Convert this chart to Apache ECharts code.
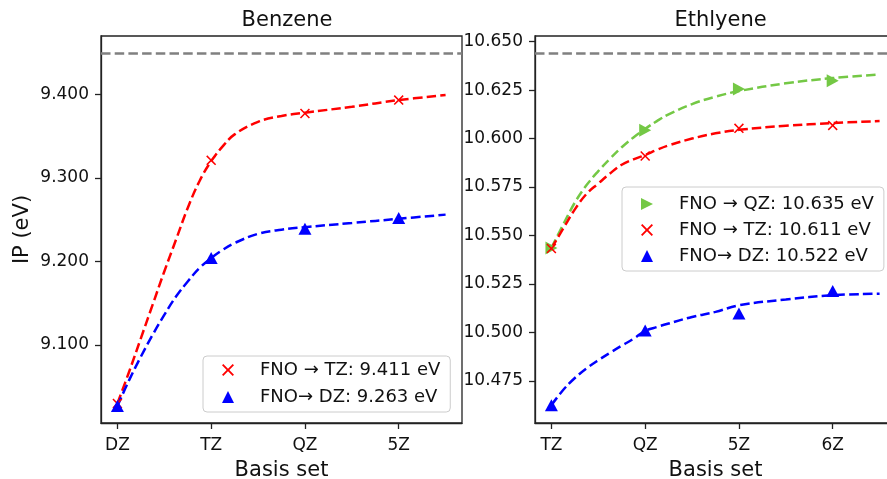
<!DOCTYPE html>
<html>
<head>
<meta charset="utf-8">
<script src="https://cdn.jsdelivr.net/npm/echarts@6/dist/echarts.min.js"></script>
<style>
  html, body { margin: 0; padding: 0; background: #fff; }
  #chart { width: 887px; height: 479px; }
</style>
</head>
<body>
<div id="chart"></div>
<script>
// ---------------- data ----------------
const benzCats = ['DZ', 'TZ', 'QZ', '5Z'];
const ethCats = ['TZ', 'QZ', '5Z', '6Z'];
const catIndex = [0, 1, 2, 3];

const benzTZ = [9.030, 9.321, 9.377, 9.393];
const benzDZ = [9.027, 9.204, 9.239, 9.252];
const benzRef = 9.449;

const ethQZ = [10.5436, 10.6043, 10.6256, 10.6298];
const ethTZ = [10.5433, 10.5910, 10.6053, 10.6068];
const ethDZ = [10.4625, 10.5010, 10.5098, 10.5214];
const ethRef = 10.644;

// fitted curves at these basis positions
const curveX = [0, 0.125, 0.25, 0.375, 0.5, 0.625, 0.75, 0.875, 1, 1.125, 1.25, 1.5, 1.75, 2, 2.5, 3, 3.5];
const benzTZFit = [9.030, 9.068, 9.108, 9.148, 9.188, 9.226, 9.264, 9.296, 9.320, 9.338, 9.352, 9.367, 9.374, 9.378, 9.385, 9.393, 9.399];
const benzDZFit = [9.027, 9.058, 9.086, 9.112, 9.136, 9.158, 9.176, 9.192, 9.204, 9.214, 9.222, 9.233, 9.238, 9.241, 9.246, 9.251, 9.256];
const ethQZFit = [10.5436, 10.5556, 10.5670, 10.5760, 10.5832, 10.5896, 10.5955, 10.6006, 10.6050, 10.6090, 10.6125, 10.6178, 10.6216, 10.6245, 10.6285, 10.6312, 10.6330];
const ethTZFit = [10.5433, 10.5535, 10.5635, 10.5715, 10.5768, 10.5820, 10.5865, 10.5893, 10.5915, 10.5942, 10.5965, 10.6000, 10.6027, 10.6045, 10.6066, 10.6080, 10.6090];
const ethDZFit = [10.4625, 10.4703, 10.4765, 10.4815, 10.4857, 10.4895, 10.4932, 10.4967, 10.5008, 10.5028, 10.5046, 10.5080, 10.5106, 10.5140, 10.5170, 10.5192, 10.5200];

const benzYTicks = [9.1, 9.2, 9.3, 9.4];
const ethYTicks = [10.475, 10.5, 10.525, 10.55, 10.575, 10.6, 10.625, 10.65];

const benzLegend = ['FNO \u2192 TZ: 9.411 eV', 'FNO\u2192 DZ: 9.263 eV'];
const ethLegend = ['FNO \u2192 QZ: 10.635 eV', 'FNO \u2192 TZ: 10.611 eV', 'FNO\u2192 DZ: 10.522 eV'];

// ---------------- styles ----------------
const RED = '#ff0000', BLUE = '#0000ff', GREEN = '#74c845', GRAY = '#808080';
const FONT = 'DejaVu Sans';
const X_ICON = 'path://M0,1.1L1.1,0L5,3.9L8.9,0L10,1.1L6.1,5L10,8.9L8.9,10L5,6.1L1.1,10L0,8.9L3.9,5Z';
const RTRI_ICON = 'path://M0,0L10,5L0,10Z';
const DASH = [9.5, 4.2];

const pairs = (xs, ys) => xs.map((x, i) => [x, ys[i]]);

function xAxisFor(grid, cats) {
  return {
    type: 'value', gridIndex: grid, min: -0.175, max: 3.675,
    name: 'Basis set', nameLocation: 'middle', nameGap: 37,
    nameTextStyle: { fontFamily: FONT, fontSize: 21, color: '#111' },
    axisLine: { show: true, onZero: false, lineStyle: { color: '#222', width: 1.3 } },
    axisTick: { show: true, length: 6, customValues: catIndex, lineStyle: { color: '#222', width: 1.3 } },
    axisLabel: { customValues: catIndex, margin: 14, fontFamily: FONT, fontSize: 17, color: '#111',
                 formatter: v => cats[Math.round(v)] },
    splitLine: { show: false }
  };
}
function yAxisFor(grid, min, max, ticks, name) {
  return {
    type: 'value', gridIndex: grid, min: min, max: max,
    name: name, nameLocation: 'middle', nameGap: 68,
    nameTextStyle: { fontFamily: FONT, fontSize: 21, color: '#111' },
    axisLine: { show: true, onZero: false, lineStyle: { color: '#222', width: 1.3 } },
    axisTick: { show: true, length: 6, customValues: ticks, lineStyle: { color: '#222', width: 1.3 } },
    axisLabel: { customValues: ticks, margin: 12, fontFamily: FONT, fontSize: 17, color: '#111',
                 formatter: v => v.toFixed(3) },
    splitLine: { show: false }
  };
}
function fitLine(name, xi, yi, data, color) {
  return { type: 'line', name: name, xAxisIndex: xi, yAxisIndex: yi, data: data,
           smooth: 0.4, showSymbol: false, symbol: 'none',
           itemStyle: { color: color },
           lineStyle: { color: color, width: 2.5, type: DASH }, z: 2, silent: true,
           legendHoverLink: false };
}
function marks(name, xi, yi, data, color, symbol, size) {
  return { type: 'scatter', name: name, xAxisIndex: xi, yAxisIndex: yi, data: data,
           symbol: symbol, symbolSize: size, itemStyle: { color: color, opacity: 1 }, z: 4 };
}
function refLine(xi, yi, value) {
  return { type: 'line', xAxisIndex: xi, yAxisIndex: yi, data: [], silent: true,
           markLine: { silent: true, symbol: 'none', precision: 4, label: { show: false },
                       lineStyle: { color: GRAY, width: 2.5, type: DASH },
                       data: [{ yAxis: value }] } };
}

const legendCommon = {
  orient: 'vertical', itemWidth: 12, itemHeight: 12, itemGap: 6,
  backgroundColor: 'rgba(255,255,255,0.8)', borderColor: '#cccccc', borderWidth: 1, borderRadius: 4,
  textStyle: { fontFamily: FONT, fontSize: 18, color: '#111', lineHeight: 20, padding: [0, 0, 0, 21] },
  selectedMode: false
};

const gridCommon = { top: 36, width: 361, height: 387, show: true, borderColor: '#222', borderWidth: 1.3,
                     backgroundColor: 'transparent', containLabel: false, outerBoundsMode: 'none' };

const option = {
  animation: false,
  backgroundColor: '#fff',
  title: [
    { text: 'Benzene', left: 282, top: 5, textAlign: 'center',
      textStyle: { fontFamily: FONT, fontSize: 21, fontWeight: 'normal', color: '#111' } },
    { text: 'Ethlyene', left: 715.5, top: 5, textAlign: 'center',
      textStyle: { fontFamily: FONT, fontSize: 21, fontWeight: 'normal', color: '#111' } }
  ],
  grid: [
    Object.assign({ left: 101 }, gridCommon),
    Object.assign({ left: 535 }, gridCommon)
  ],
  xAxis: [xAxisFor(0, benzCats), xAxisFor(1, ethCats)],
  yAxis: [
    yAxisFor(0, 9.0067, 9.4697, benzYTicks, 'IP (eV)'),
    yAxisFor(1, 10.4533, 10.6529, ethYTicks, '')
  ],
  legend: [
    Object.assign({}, legendCommon, { left: 203, top: 356, itemGap: 7, padding: [4, 10, 5, 19],
      data: [{ name: benzLegend[0], icon: X_ICON }, { name: benzLegend[1], icon: 'triangle' }] }),
    Object.assign({}, legendCommon, { left: 622, top: 187, itemGap: 6, padding: [7, 10, 5, 19],
      data: [{ name: ethLegend[0], icon: RTRI_ICON }, { name: ethLegend[1], icon: X_ICON }, { name: ethLegend[2], icon: 'triangle' }] })
  ],
  series: [
    refLine(0, 0, benzRef),
    marks(benzLegend[0], 0, 0, pairs(catIndex, benzTZ), RED, X_ICON, 10),
    marks(benzLegend[1], 0, 0, pairs(catIndex, benzDZ), BLUE, 'triangle', [13, 12]),
    fitLine(benzLegend[0], 0, 0, pairs(curveX, benzTZFit), RED),
    fitLine(benzLegend[1], 0, 0, pairs(curveX, benzDZFit), BLUE),

    refLine(1, 1, ethRef),
    marks(ethLegend[0], 1, 1, pairs(catIndex, ethQZ), GREEN, RTRI_ICON, [12, 13]),
    marks(ethLegend[1], 1, 1, pairs(catIndex, ethTZ), RED, X_ICON, 10),
    marks(ethLegend[2], 1, 1, pairs(catIndex, ethDZ), BLUE, 'triangle', [13, 12]),
    fitLine(ethLegend[0], 1, 1, pairs(curveX, ethQZFit), GREEN),
    fitLine(ethLegend[1], 1, 1, pairs(curveX, ethTZFit), RED),
    fitLine(ethLegend[2], 1, 1, pairs(curveX, ethDZFit), BLUE)
  ]
};

const chart = echarts.init(document.getElementById('chart'), null, { renderer: 'canvas' });
chart.setOption(option);
</script>
</body>
</html>
